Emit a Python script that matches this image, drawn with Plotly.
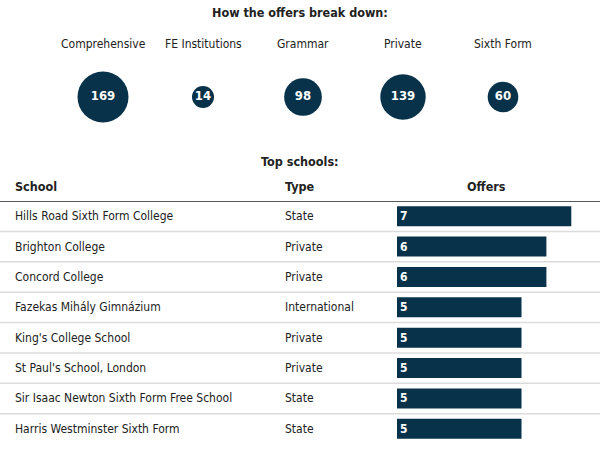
import plotly.graph_objects as go

# breakdown by school type
types = ["Comprehensive", "FE Institutions", "Grammar", "Private", "Sixth Form"]
type_offers = [169, 14, 98, 139, 60]

# top schools table
schools = [
    "Hills Road Sixth Form College",
    "Brighton College",
    "Concord College",
    "Fazekas Mihály Gimnázium",
    "King's College School",
    "St Paul's School, London",
    "Sir Isaac Newton Sixth Form Free School",
    "Harris Westminster Sixth Form",
]
school_types = ["State", "Private", "Private", "International",
                "Private", "Private", "State", "State"]
school_offers = [7, 6, 6, 5, 5, 5, 5, 5]

NAVY = "#08324a"
INK = "#222222"
FONT = "DejaVu Sans Condensed, Liberation Sans Narrow, Roboto, sans-serif"
W, H = 600, 462


def py(px):
    # pixel from top -> paper y
    return 1 - px / H


def label(text, x, y, xref="paper", yref="paper", xanchor="center", size=12, bold=False):
    return dict(text=text, x=x, y=y, xref=xref, yref=yref, xanchor=xanchor,
                yanchor="middle", showarrow=False,
                font=dict(family=FONT, size=size, color=INK,
                          weight="bold" if bold else "normal"))


fig = go.Figure()

# circles: diameter grows with the number of offers
sizes = [19.4 + 0.187 * v for v in type_offers]
fig.add_trace(go.Scatter(
    x=types, y=[0] * len(types),
    mode="markers+text",
    marker=dict(size=sizes, color=NAVY, opacity=1, line=dict(width=0)),
    text=[str(v) for v in type_offers],
    textposition="middle center",
    textfont=dict(family=FONT, size=13, color="white", weight="bold"),
    xaxis="x", yaxis="y",
    hoverinfo="skip",
    cliponaxis=False,
))

# bars for the top schools
fig.add_trace(go.Bar(
    x=school_offers, y=schools,
    orientation="h",
    marker=dict(color=NAVY, line=dict(width=0)),
    text=[str(v) for v in school_offers],
    textposition="inside",
    insidetextanchor="start",
    textfont=dict(family=FONT, size=12, color="white", weight="bold"),
    xaxis="x2", yaxis="y2",
    hoverinfo="skip",
))

annotations = [
    label("How the offers break down:", 0.5, py(12), size=12.5, bold=True),
    label("Top schools:", 0.5, py(161), size=12.5, bold=True),
    label("School", 13 / W, py(186), xanchor="left", size=12.5, bold=True),
    label("Type", 283 / W, py(186), xanchor="left", size=12.5, bold=True),
    label("Offers", 486 / W, py(186), size=12.5, bold=True),
]
for t in types:
    annotations.append(label(t, t, py(44), xref="x", size=12))
for s, ty in zip(schools, school_types):
    annotations.append(label(s, 13 / W, s, yref="y2", xanchor="left", size=12))
    annotations.append(label(ty, 283 / W, s, yref="y2", xanchor="left", size=12))

shapes = [dict(type="line", xref="paper", x0=0, x1=1, yref="y2", y0=-0.5, y1=-0.5,
               line=dict(color="#222", width=1.5))]
for i in range(len(schools) - 1):
    shapes.append(dict(type="line", xref="paper", x0=0, x1=1, yref="y2",
                       y0=i + 0.5, y1=i + 0.5, line=dict(color="#dcdcdc", width=1.5),
                       layer="below"))

bar_x0 = 397 / W
fig.update_layout(
    width=W, height=H,
    margin=dict(l=0, r=0, t=0, b=0),
    paper_bgcolor="white", plot_bgcolor="white",
    showlegend=False,
    hovermode=False,
    xaxis=dict(domain=[0, 1], range=[-1.03, 4.97], visible=False, fixedrange=True),
    yaxis=dict(domain=[py(130), py(64)], range=[-1, 1], visible=False, fixedrange=True),
    xaxis2=dict(domain=[bar_x0, 1], range=[0, (W - 397) / 24.9], visible=False,
                anchor="y2", fixedrange=True),
    yaxis2=dict(domain=[py(444), py(201)], range=[len(schools) - 0.5, -0.5],
                visible=False, anchor="x2", fixedrange=True),
    bargap=0.34,
    annotations=annotations,
    shapes=shapes,
)

fig.write_html("out.html", config={"displayModeBar": False},
               post_script="document.body.style.margin='0';")
